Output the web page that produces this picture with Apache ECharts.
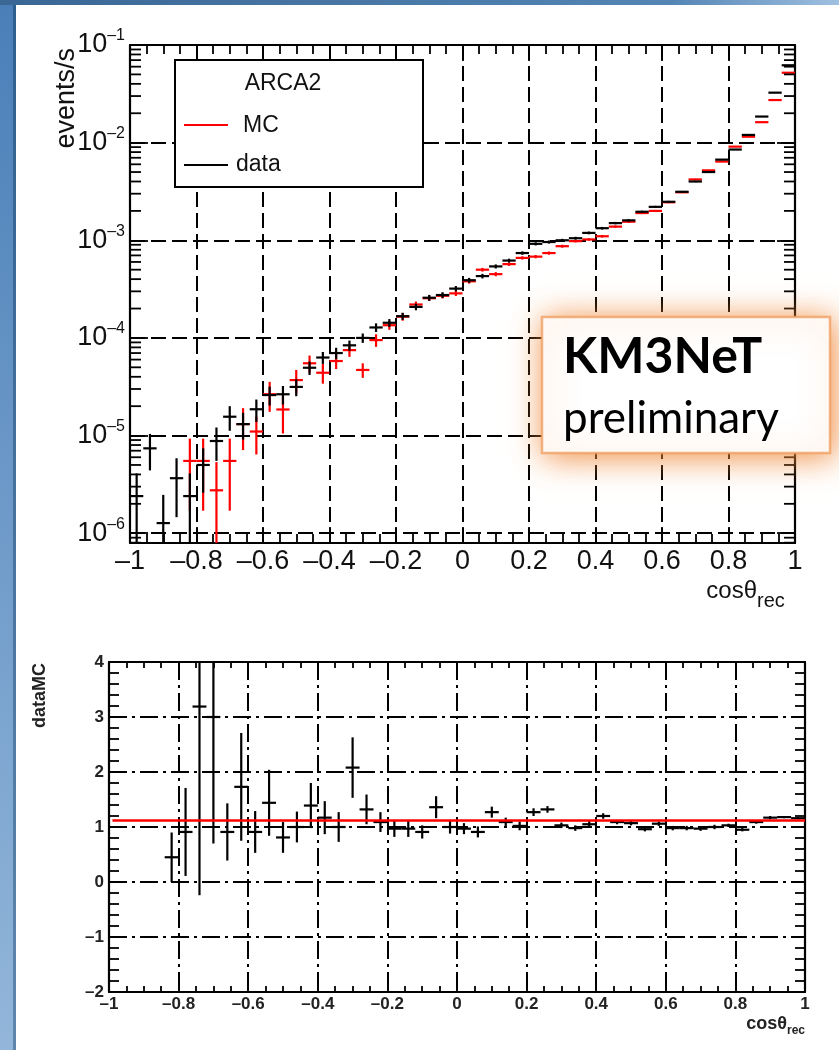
<!DOCTYPE html>
<html>
<head>
<meta charset="utf-8">
<script src="https://cdn.jsdelivr.net/npm/echarts@6.0.0/dist/echarts.min.js"></script>
<style>
  html, body { margin: 0; padding: 0; background: #fff; }
  #chart { width: 839px; height: 1050px; }
</style>
</head>
<body>
<div id="chart"></div>
<script>
// bin centres of the cos(theta_rec) histogram (50 bins of 0.04)
const cosBins = [-0.98, -0.94, -0.90, -0.86, -0.82, -0.78, -0.74, -0.70, -0.66, -0.62,
  -0.58, -0.54, -0.50, -0.46, -0.42, -0.38, -0.34, -0.30, -0.26, -0.22,
  -0.18, -0.14, -0.10, -0.06, -0.02, 0.02, 0.06, 0.10, 0.14, 0.18,
  0.22, 0.26, 0.30, 0.34, 0.38, 0.42, 0.46, 0.50, 0.54, 0.58,
  0.62, 0.66, 0.70, 0.74, 0.78, 0.82, 0.86, 0.90, 0.94, 0.98];
const binHalf = 0.02;

// events/s, data
const dataRate = [2.4e-6, 7.4e-6, 1.27e-6, 3.66e-6, 2.4e-6, 5.0e-6, 8.8e-6, 1.56e-5, 1.31e-5, 1.86e-5,
  2.6e-5, 2.65e-5, 3.15e-5, 4.95e-5, 6.3e-5, 7.0e-5, 8.4e-5, 1.0e-4, 1.28e-4, 1.43e-4,
  1.67e-4, 2.08e-4, 2.58e-4, 2.75e-4, 3.2e-4, 3.9e-4, 4.3e-4, 5.4e-4, 6.2e-4, 7.4e-4,
  9.2e-4, 9.6e-4, 1.0e-3, 1.05e-3, 1.19e-3, 1.33e-3, 1.5e-3, 1.6e-3, 1.96e-3, 2.2e-3,
  2.48e-3, 3.14e-3, 4.0e-3, 5.0e-3, 6.7e-3, 8.5e-3, 1.2e-2, 1.85e-2, 3.25e-2, 6.2e-2];
const dataErr = [1.7e-6, 3.0e-6, 1.2e-6, 2.2e-6, 1.7e-6, 2.4e-6, 3.3e-6, 4.4e-6, 4.0e-6, 4.8e-6,
  5.7e-6, 5.7e-6, 6.2e-6, 7.8e-6, 8.8e-6, 9.3e-6, 1.0e-5, 1.1e-5, 1.3e-5, 1.3e-5,
  1.4e-5, 1.6e-5, 1.8e-5, 1.9e-5, 2.0e-5, 2.2e-5, 2.3e-5, 2.6e-5, 2.8e-5, 3.0e-5,
  3.4e-5, 3.5e-5, 3.5e-5, 3.6e-5, 3.9e-5, 4.1e-5, 4.3e-5, 4.5e-5, 5.0e-5, 5.2e-5,
  5.6e-5, 6.3e-5, 7.0e-5, 8.0e-5, 9.0e-5, 1.0e-4, 1.2e-4, 1.5e-4, 2.0e-4, 2.8e-4];

// events/s, MC
const mcRate = [null, null, null, null, 5.5e-6, 5.5e-6, 2.75e-6, 5.5e-6, 1.31e-5, 1.1e-5,
  2.65e-5, 1.85e-5, 3.7e-5, 5.5e-5, 4.4e-5, 5.8e-5, 7.5e-5, 4.7e-5, 9.5e-5, 1.35e-4,
  1.65e-4, 2.2e-4, 2.55e-4, 2.7e-4, 2.86e-4, 3.8e-4, 5.0e-4, 4.5e-4, 5.7e-4, 6.6e-4,
  6.8e-4, 7.4e-4, 8.7e-4, 9.8e-4, 1.02e-3, 1.1e-3, 1.38e-3, 1.55e-3, 1.9e-3, 2.0e-3,
  2.45e-3, 3.1e-3, 4.2e-3, 5.2e-3, 6.4e-3, 9.1e-3, 1.15e-2, 1.62e-2, 2.73e-2, 5.2e-2];
const mcErr = [null, null, null, null, 3.8e-6, 3.8e-6, 2.6e-6, 3.8e-6, 6.0e-6, 4.6e-6,
  9.0e-6, 8.0e-6, 1.0e-5, 1.1e-5, 1.0e-5, 1.0e-5, 1.1e-5, 8.0e-6, 1.4e-5, 1.4e-5,
  1.5e-5, 1.6e-5, 1.6e-5, 1.6e-5, 1.7e-5, 2.0e-5, 2.2e-5, 2.2e-5, 2.4e-5, 2.6e-5,
  2.6e-5, 2.8e-5, 3.0e-5, 3.0e-5, 3.2e-5, 3.4e-5, 3.8e-5, 4.0e-5, 4.4e-5, 4.6e-5,
  5.0e-5, 5.6e-5, 6.5e-5, 7.2e-5, 8.0e-5, 9.5e-5, 1.1e-4, 1.3e-4, 1.7e-4, 2.4e-4];

// data / MC
const ratioVal = [null, null, null, null, 0.45, 0.91, 3.19, 3.0, 0.91, 1.73,
  0.91, 1.44, 0.81, 1.0, 1.39, 1.17, 1.0, 2.08, 1.32, 1.09,
  0.97, 0.97, 0.91, 1.36, 1.0, 0.97, 0.91, 1.27, 1.09, 1.02,
  1.27, 1.32, 1.03, 0.98, 1.05, 1.2, 1.09, 1.07, 0.96, 1.06,
  0.98, 0.98, 0.97, 1.0, 1.03, 0.95, 1.09, 1.17, 1.18, 1.16];
const ratioErr = [null, null, null, null, 0.45, 0.8, 3.43, 2.3, 0.52, 0.98,
  0.38, 0.6, 0.28, 0.28, 0.41, 0.3, 0.27, 0.55, 0.27, 0.18,
  0.15, 0.15, 0.12, 0.2, 0.12, 0.1, 0.1, 0.1, 0.08, 0.08,
  0.07, 0.06, 0.05, 0.05, 0.06, 0.05, 0.04, 0.04, 0.04, 0.04,
  0.04, 0.04, 0.04, 0.04, 0.03, 0.03, 0.03, 0.03, 0.02, 0.02];
const ratioFit = 1.12;

// axes
const cosTickLabels = ['\u20131', '\u20130.8', '\u20130.6', '\u20130.4', '\u20130.2', '0', '0.2', '0.4', '0.6', '0.8', '1'];
const rateMin = 7.94e-7, rateMax = 0.1;
const ratioTickLabels = ['\u20132', '\u20131', '0', '1', '2', '3', '4'];
const ratioMin = -2, ratioMax = 4;

const FONT = '"Liberation Sans", Arial, Helvetica, sans-serif';
const chart = echarts.init(document.getElementById('chart'));

function points(vals, errs) {
  return cosBins.map((c, i) => [c, vals[i], errs[i]]).filter(d => d[1] != null);
}

function errorBars(color, yLo, yHi) {
  return function (params, api) {
    const x = api.value(0), y = api.value(1), e = api.value(2);
    const lo = Math.max(y - e, yLo), hi = Math.min(y + e, yHi);
    const style = { stroke: color, lineWidth: 2.2 };
    const t = api.coord([x, hi]), d = api.coord([x, lo]);
    const children = [{ type: 'line', shape: { x1: t[0], y1: t[1], x2: d[0], y2: d[1] }, style }];
    if (y >= yLo && y <= yHi) {
      const a = api.coord([x - binHalf, y]), b = api.coord([x + binHalf, y]);
      children.push({ type: 'line', shape: { x1: a[0], y1: a[1], x2: b[0], y2: b[1] }, style });
    }
    return { type: 'group', children };
  };
}

// minor ticks of the log axis at 2..9 x 10^n
const logMinor = [];
for (let e = -7; e <= -2; e++) {
  for (let m = 2; m <= 9; m++) {
    const v = m * Math.pow(10, e);
    if (v > rateMin && v < rateMax) logMinor.push(v);
  }
}

const black = '#000';
const gridW = 2;
function tickAxis(extra) {
  return Object.assign({
    axisLine: { show: true, onZero: false, lineStyle: { color: black, width: 2.2 } },
    axisTick: { show: true, inside: true, length: 16, lineStyle: { color: black, width: 1.8 } },
    splitLine: { show: false },
    axisLabel: { show: false }
  }, extra);
}

const graphics = [
  // slide frame
  {
    type: 'rect', shape: { x: 0, y: 0, width: 16, height: 1050 }, z: 200,
    style: { fill: new echarts.graphic.LinearGradient(0, 0, 0, 1, [
      { offset: 0, color: '#4a7fb8' }, { offset: 1, color: '#93b6da' }]) }
  },
  {
    type: 'rect', shape: { x: 13, y: 0, width: 3, height: 1050 }, z: 201,
    style: { fill: new echarts.graphic.LinearGradient(0, 0, 0, 1, [
      { offset: 0, color: '#2f5f8f' }, { offset: 1, color: '#5f86ad' }]) }
  },
  {
    type: 'rect', shape: { x: 0, y: 0, width: 839, height: 5 }, z: 202,
    style: { fill: new echarts.graphic.LinearGradient(0, 0, 1, 0, [
      { offset: 0, color: '#3a6794' }, { offset: 0.8, color: '#5485b5' }, { offset: 1, color: '#9fc0e0' }]) }
  },
  // legend
  {
    type: 'rect', shape: { x: 175, y: 60, width: 248, height: 127 }, z: 100,
    style: { fill: '#fff', stroke: black, lineWidth: 2 }
  },
  { type: 'text', x: 283, y: 84, z: 101,
    style: { text: 'ARCA2', font: '23px ' + FONT, fill: '#111', align: 'center', verticalAlign: 'middle' } },
  { type: 'line', z: 101, shape: { x1: 184, y1: 125, x2: 228, y2: 125 }, style: { stroke: '#ff0000', lineWidth: 2 } },
  { type: 'text', x: 243, y: 126, z: 101,
    style: { text: 'MC', font: '23px ' + FONT, fill: '#111', align: 'left', verticalAlign: 'middle' } },
  { type: 'line', z: 101, shape: { x1: 184, y1: 165, x2: 228, y2: 165 }, style: { stroke: black, lineWidth: 2 } },
  { type: 'text', x: 236, y: 165, z: 101,
    style: { text: 'data', font: '23px ' + FONT, fill: '#111', align: 'left', verticalAlign: 'middle' } },
  // axis titles
  { type: 'text', x: 67, y: 48, rotation: Math.PI / 2, z: 50,
    style: { text: 'events/s', font: '27px ' + FONT, fill: '#111', align: 'right', verticalAlign: 'middle' } },
  { type: 'text', x: 757, y: 591, z: 50,
    style: { text: 'cos\u03b8', font: '24px ' + FONT, fill: '#111', align: 'right', verticalAlign: 'middle' } },
  { type: 'text', x: 757, y: 601, z: 50,
    style: { text: 'rec', font: '20px ' + FONT, fill: '#111', align: 'left', verticalAlign: 'middle' } },
  { type: 'text', x: 40, y: 663, rotation: Math.PI / 2, z: 50,
    style: { text: 'dataMC', font: 'bold 18px ' + FONT, fill: '#222', align: 'right', verticalAlign: 'middle' } },
  { type: 'text', x: 787, y: 1024, z: 50,
    style: { text: 'cos\u03b8', font: 'bold 18px ' + FONT, fill: '#222', align: 'right', verticalAlign: 'middle' } },
  { type: 'text', x: 787, y: 1031, z: 50,
    style: { text: 'rec', font: 'bold 12px ' + FONT, fill: '#222', align: 'left', verticalAlign: 'middle' } },
  // KM3NeT stamp
  {
    type: 'rect', shape: { x: 542, y: 317, width: 288, height: 136 }, z: 150,
    style: { fill: '#fff', stroke: 'rgba(240,160,100,0.8)', lineWidth: 2.5,
      shadowBlur: 30, shadowOffsetX: 3, shadowOffsetY: 3, shadowColor: 'rgba(240,135,55,0.95)' }
  },
  { type: 'text', x: 563, y: 357, z: 151,
    style: { text: 'KM3NeT', font: 'bold 50px Lato, "Open Sans", sans-serif', fill: '#000', align: 'left', verticalAlign: 'middle' } },
  { type: 'text', x: 563, y: 419, z: 151,
    style: { text: 'preliminary', font: '44px Lato, "Open Sans", sans-serif', fill: '#000', align: 'left', verticalAlign: 'middle' } }
];

const option = {
  animation: false,
  backgroundColor: '#fff',
  grid: [
    { left: 130, top: 45, width: 665, height: 498 },
    { left: 109, top: 662, width: 696, height: 330 }
  ],
  xAxis: [
    tickAxis({
      gridIndex: 0, type: 'value', min: -1, max: 1, interval: 0.2, position: 'bottom',
      minorTick: { show: true, splitNumber: 4, length: 9, lineStyle: { color: black, width: 1.8 } },
      axisLabel: {
        show: true, fontFamily: FONT, fontSize: 27, color: '#111', margin: 5,
        formatter: v => cosTickLabels[Math.round((v + 1) / 0.2)]
      },
      splitLine: { show: true, lineStyle: { color: black, width: gridW, type: [15, 6] } }
    }),
    tickAxis({
      gridIndex: 0, type: 'value', min: -1, max: 1, interval: 0.2, position: 'top',
      minorTick: { show: true, splitNumber: 4, length: 9, lineStyle: { color: black, width: 1.8 } }
    }),
    tickAxis({
      gridIndex: 1, type: 'value', min: -1, max: 1, interval: 0.2, position: 'bottom',
      axisTick: { show: true, inside: true, length: 12, lineStyle: { color: black, width: 1.8 } },
      minorTick: { show: true, splitNumber: 4, length: 6, lineStyle: { color: black, width: 1.8 } },
      axisLabel: {
        show: true, fontFamily: FONT, fontSize: 17, fontWeight: 'bold', color: '#222', margin: 4,
        formatter: v => cosTickLabels[Math.round((v + 1) / 0.2)]
      },
      splitLine: { show: true, lineStyle: { color: black, width: gridW, type: [18, 5, 3, 5] } }
    }),
    tickAxis({
      gridIndex: 1, type: 'value', min: -1, max: 1, interval: 0.2, position: 'top',
      axisTick: { show: true, inside: true, length: 12, lineStyle: { color: black, width: 1.8 } },
      minorTick: { show: true, splitNumber: 4, length: 6, lineStyle: { color: black, width: 1.8 } }
    })
  ],
  yAxis: [
    tickAxis({
      gridIndex: 0, type: 'log', logBase: 10, min: rateMin, max: rateMax, position: 'left',
      axisTick: { show: true, inside: true, length: 18, lineStyle: { color: black, width: 1.8 } },
      axisLabel: {
        show: true, fontFamily: FONT, color: '#111', margin: 5, showMinLabel: false,
        formatter: v => {
          const e = Math.log10(v);
          if (Math.abs(e - Math.round(e)) > 1e-6) return '';
          return '{b|10}{s|\u2013' + Math.abs(Math.round(e)) + '}';
        },
        rich: {
          b: { fontFamily: FONT, fontSize: 27, color: '#111' },
          s: { fontFamily: FONT, fontSize: 16, color: '#111', padding: [0, 0, 18, 0] }
        }
      },
      splitLine: { show: true, lineStyle: { color: black, width: gridW, type: [15, 6] } }
    }),
    tickAxis({
      gridIndex: 0, type: 'log', logBase: 10, min: rateMin, max: rateMax, position: 'right',
      axisTick: { show: true, inside: true, length: 18, lineStyle: { color: black, width: 1.8 } }
    }),
    tickAxis({
      gridIndex: 1, type: 'value', min: ratioMin, max: ratioMax, interval: 1, position: 'left',
      axisTick: { show: true, inside: true, length: 14, lineStyle: { color: black, width: 1.8 } },
      minorTick: { show: true, splitNumber: 5, length: 10, lineStyle: { color: black, width: 1.8 } },
      axisLabel: {
        show: true, fontFamily: FONT, fontSize: 17, fontWeight: 'bold', color: '#222', margin: 5,
        formatter: v => ratioTickLabels[Math.round(v - ratioMin)]
      },
      splitLine: { show: true, lineStyle: { color: black, width: gridW, type: [18, 5, 3, 5] } }
    }),
    tickAxis({
      gridIndex: 1, type: 'value', min: ratioMin, max: ratioMax, interval: 1, position: 'right',
      axisTick: { show: true, inside: true, length: 14, lineStyle: { color: black, width: 1.8 } },
      minorTick: { show: true, splitNumber: 5, length: 10, lineStyle: { color: black, width: 1.8 } }
    })
  ],
  series: [
    {
      name: 'MC', type: 'custom', xAxisIndex: 0, yAxisIndex: 0, silent: true, clip: true,
      encode: { x: 0, y: 1 },
      data: points(mcRate, mcErr),
      renderItem: errorBars('#ff0000', rateMin, rateMax)
    },
    {
      name: 'data', type: 'custom', xAxisIndex: 0, yAxisIndex: 0, silent: true, clip: true,
      encode: { x: 0, y: 1 },
      data: points(dataRate, dataErr),
      renderItem: errorBars(black, rateMin, rateMax)
    },
    {
      name: 'data/MC', type: 'custom', xAxisIndex: 2, yAxisIndex: 2, silent: true, clip: true,
      encode: { x: 0, y: 1 },
      data: points(ratioVal, ratioErr),
      renderItem: errorBars(black, ratioMin, ratioMax)
    },
    {
      name: 'fit', type: 'line', xAxisIndex: 2, yAxisIndex: 2, silent: true,
      symbol: 'none', lineStyle: { color: '#ff0000', width: 2.5 },
      data: [[-0.99, ratioFit], [1, ratioFit]], z: 5
    }
  ],
  graphic: graphics
};

chart.setOption(option);

// log-axis minor ticks, placed through the axis scale on both frame sides
const tickStyle = { stroke: black, lineWidth: 1.8 };
const minorTickGraphics = [];
logMinor.forEach(v => {
  const l = chart.convertToPixel({ gridIndex: 0 }, [-1, v]);
  const r = chart.convertToPixel({ gridIndex: 0 }, [1, v]);
  minorTickGraphics.push(
    { type: 'line', z: 40, silent: true, shape: { x1: l[0], y1: l[1], x2: l[0] + 11, y2: l[1] }, style: tickStyle },
    { type: 'line', z: 40, silent: true, shape: { x1: r[0] - 11, y1: r[1], x2: r[0], y2: r[1] }, style: tickStyle }
  );
});
chart.setOption({ graphic: graphics.concat(minorTickGraphics) });
</script>
</body>
</html>
